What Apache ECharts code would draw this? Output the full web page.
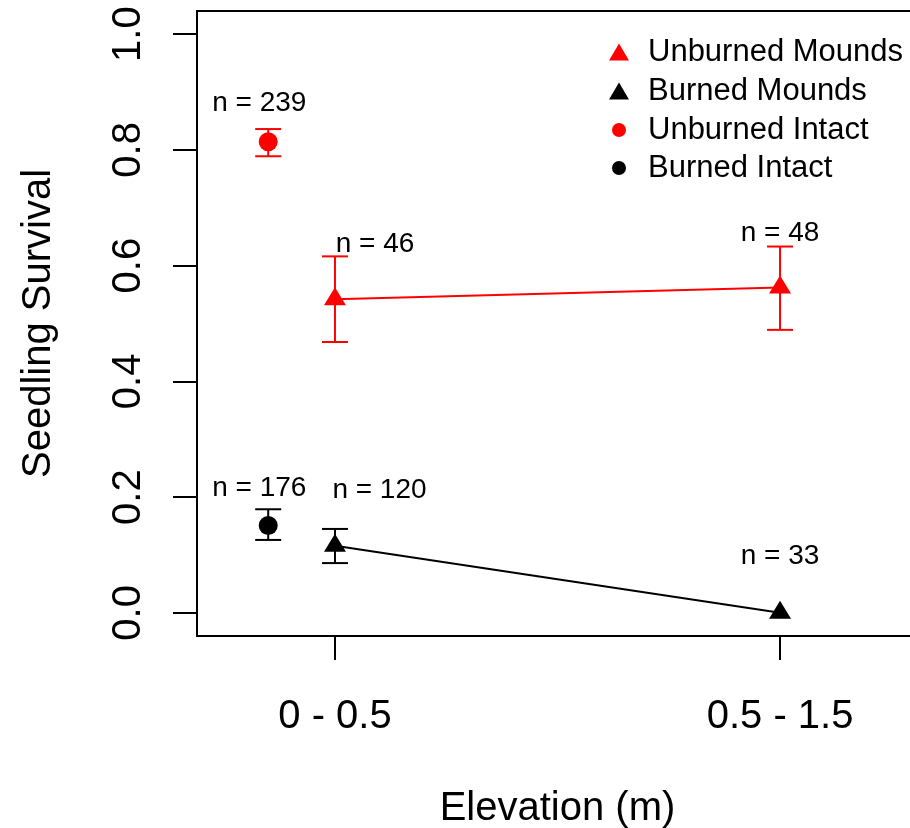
<!DOCTYPE html>
<html>
<head>
<meta charset="utf-8">
<script src="https://cdn.jsdelivr.net/npm/echarts@6/dist/echarts.min.js"></script>
<style>html,body{margin:0;padding:0;background:#fff;overflow:hidden}#c{width:910px;height:828px}</style>
</head>
<body>
<div id="c"></div>
<script>
// ---- data ----
const categories = ['0 - 0.5', '0.5 - 1.5'];
const categoryX = [1, 2];
const intactX = [0.85];

const unburnedMounds = [0.542, 0.562];
const unburnedMoundsLo = [0.468, 0.489];
const unburnedMoundsHi = [0.616, 0.633];

const burnedMounds = [0.116, 0.0];
const burnedMoundsLo = [0.086, 0.0];
const burnedMoundsHi = [0.145, 0.0];

const unburnedIntact = [0.814];
const unburnedIntactLo = [0.789];
const unburnedIntactHi = [0.836];

const burnedIntact = [0.151];
const burnedIntactLo = [0.126];
const burnedIntactHi = [0.179];

const nLabelText = ['n = 239', 'n = 176', 'n = 46', 'n = 120', 'n = 48', 'n = 33'];
const nLabelX = [0.83, 0.83, 1.09, 1.10, 2.0, 2.0];
const nLabelY = [0.881, 0.216, 0.637, 0.212, 0.656, 0.098];

const yTicks = [0, 0.2, 0.4, 0.6, 0.8, 1.0];

// ---- build ----
const FONT = "'Liberation Sans', Arial, sans-serif";
const RED = '#ff0000', BLACK = '#000000';
const X_MIN = 0.69, X_MAX = 2.292;

function pts(xs, ys) { return xs.map((x, i) => [x, ys[i]]); }
function bars(xs, lo, hi) { return xs.map((x, i) => [x, lo[i], hi[i]]); }

function errSeries(data, color) {
  return {
    type: 'custom',
    data: data,
    z: 3,
    silent: true,
    renderItem: function (params, api) {
      const x = api.value(0), lo = api.value(1), hi = api.value(2);
      if (hi === lo) return null;
      const a = api.coord([x, hi]), b = api.coord([x, lo]);
      const w = 13;
      const st = { stroke: color, lineWidth: 2 };
      return {
        type: 'group',
        children: [
          { type: 'line', shape: { x1: a[0], y1: a[1], x2: b[0], y2: b[1] }, style: st },
          { type: 'line', shape: { x1: a[0] - w, y1: a[1], x2: a[0] + w, y2: a[1] }, style: st },
          { type: 'line', shape: { x1: b[0] - w, y1: b[1], x2: b[0] + w, y2: b[1] }, style: st }
        ]
      };
    }
  };
}

function legendItem(name, icon, color, top, w, h, left) {
  return {
    data: [{ name: name, icon: icon, itemStyle: { color: color, opacity: 1 } }],
    orient: 'vertical',
    left: left, top: top,
    padding: 0,
    itemWidth: w, itemHeight: h,
    symbolKeepAspect: false,
    selectedMode: false,
    textStyle: { fontFamily: FONT, fontSize: 31, color: '#000', lineHeight: 32, padding: [0, 0, 0, 648 - (left + w + 5)] }
  };
}

const chart = echarts.init(document.getElementById('c'), null, { renderer: 'canvas' });
chart.setOption({
  animation: false,
  backgroundColor: '#fff',
  grid: { left: 197, top: 11, right: 0, bottom: 192, show: false, outerBoundsMode: 'none', containLabel: false },
  legend: [
    legendItem('Unburned Mounds', 'triangle', RED, 36, 20, 17, 609),
    legendItem('Burned Mounds', 'triangle', BLACK, 75, 20, 17, 609),
    legendItem('Unburned Intact', 'circle', RED, 114, 14, 14, 612),
    legendItem('Burned Intact', 'circle', BLACK, 152, 14, 14, 612)
  ],
  xAxis: [{
    type: 'value',
    min: X_MIN, max: X_MAX,
    axisLine: { show: true, onZero: false, lineStyle: { color: '#000', width: 2 } },
    splitLine: { show: false },
    axisTick: { show: true, customValues: categoryX, length: 24, lineStyle: { color: '#000', width: 2 } },
    axisLabel: {
      show: true, customValues: categoryX, margin: 61,
      fontFamily: FONT, fontSize: 40, color: '#000',
      formatter: function (v) { const i = categoryX.indexOf(v); return i >= 0 ? categories[i] : ''; }
    },
    name: 'Elevation (m)', nameLocation: 'middle', nameGap: 153,
    nameTextStyle: { fontFamily: FONT, fontSize: 40, color: '#000', padding: [0, 0, 0, 8] }
  }, {
    type: 'value', position: 'top',
    min: X_MIN, max: X_MAX,
    axisLine: { show: true, onZero: false, lineStyle: { color: '#000', width: 2 } },
    splitLine: { show: false }, axisTick: { show: false }, axisLabel: { show: false }
  }],
  yAxis: {
    type: 'value',
    min: -0.04, max: 1.04,
    axisLine: { show: true, onZero: false, lineStyle: { color: '#000', width: 2 } },
    splitLine: { show: false },
    axisTick: { show: true, customValues: yTicks, length: 24, lineStyle: { color: '#000', width: 2 } },
    axisLabel: {
      show: true, customValues: yTicks, rotate: 90, margin: 48,
      fontFamily: FONT, fontSize: 40, color: '#000',
      formatter: function (v) { return v.toFixed(1); }
    },
    name: 'Seedling Survival', nameLocation: 'middle', nameGap: 138,
    nameTextStyle: { fontFamily: FONT, fontSize: 40, color: '#000' }
  },
  series: [
    errSeries(bars(categoryX, unburnedMoundsLo, unburnedMoundsHi), RED),
    errSeries(bars(categoryX, burnedMoundsLo, burnedMoundsHi), BLACK),
    errSeries(bars(intactX, unburnedIntactLo, unburnedIntactHi), RED),
    errSeries(bars(intactX, burnedIntactLo, burnedIntactHi), BLACK),
    {
      name: 'Unburned Mounds', type: 'line', data: pts(categoryX, unburnedMounds),
      symbol: 'triangle', symbolSize: [22, 18], symbolOffset: [0, -3], showSymbol: true,
      lineStyle: { color: RED, width: 2 }, itemStyle: { color: RED, opacity: 1 }, z: 4
    },
    {
      name: 'Burned Mounds', type: 'line', data: pts(categoryX, burnedMounds),
      symbol: 'triangle', symbolSize: [22, 18], symbolOffset: [0, -3], showSymbol: true,
      lineStyle: { color: BLACK, width: 2 }, itemStyle: { color: BLACK, opacity: 1 }, z: 4
    },
    {
      name: 'Unburned Intact', type: 'scatter', data: pts(intactX, unburnedIntact),
      symbol: 'circle', symbolSize: 19, itemStyle: { color: RED, opacity: 1 }, z: 4
    },
    {
      name: 'Burned Intact', type: 'scatter', data: pts(intactX, burnedIntact),
      symbol: 'circle', symbolSize: 19, itemStyle: { color: BLACK, opacity: 1 }, z: 4
    },
    {
      name: 'n', type: 'scatter', symbol: 'rect', symbolSize: 1,
      itemStyle: { color: 'rgba(0,0,0,0)', opacity: 1 },
      data: nLabelX.map((x, i) => ({ value: [x, nLabelY[i]], label: { formatter: nLabelText[i] } })),
      label: { show: true, position: 'inside', fontFamily: FONT, fontSize: 28, color: '#000' },
      z: 5, silent: true
    }
  ]
});
</script>
</body>
</html>
